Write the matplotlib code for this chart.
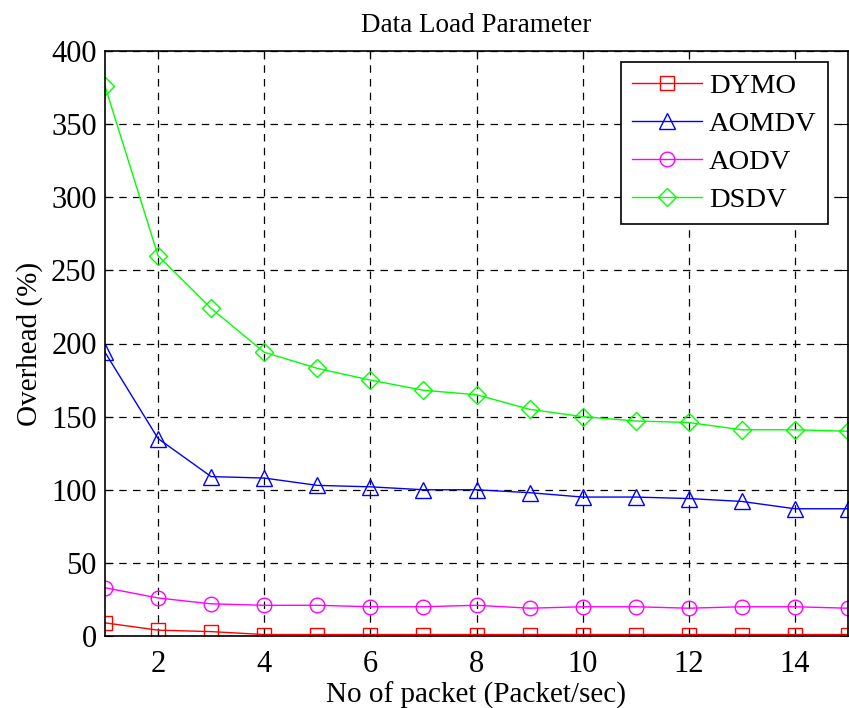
import matplotlib
matplotlib.use("Agg")
import matplotlib.pyplot as plt

x = list(range(1, 16))
dymo = [9, 4, 3, 1, 1, 1, 1, 1, 1, 1, 1, 1, 1, 1, 1]
aomdv = [194, 135, 109, 108, 103, 102, 100, 100, 98, 95, 95, 94, 92, 87, 87]
aodv = [33, 26, 22, 21, 21, 20, 20, 21, 19, 20, 20, 19, 20, 20, 19]
dsdv = [376, 260, 224, 194, 183, 175, 168, 165, 155, 150, 147, 146, 141, 141, 140]
xticks = [2, 4, 6, 8, 10, 12, 14]
yticks = [0, 50, 100, 150, 200, 250, 300, 350, 400]

plt.rcParams['font.family'] = ['Liberation Serif', 'DejaVu Serif']
fig = plt.figure(figsize=(8.49, 7.08), dpi=100)
ax = fig.add_axes([105/849, 1-636/708, (848-105)/849, (636-51)/708])

mk = dict(markerfacecolor='none', linewidth=1, markeredgewidth=1)
ax.plot(x, dymo, color='#ff0000', marker='s', markersize=10, label='DYMO', **mk)
ax.plot(x, aomdv, color='#0000ff', marker='^', markersize=12, label='AOMDV', **mk)
ax.plot(x, aodv, color='#ff00ff', marker='o', markersize=10.5, label='AODV', **mk)
ax.plot(x, dsdv, color='#00ff00', marker='D', markersize=9.5, label='DSDV', **mk)

ax.set_xlim(1, 15)
ax.set_ylim(0, 400)
ax.set_xticks(xticks)
ax.set_yticks(yticks)
ax.tick_params(direction='in', top=True, right=True, labelsize=22, length=6, pad=6)
ax.tick_params(axis='x', pad=10)
ax.grid(True, color='black', linestyle=(0, (6, 5)), linewidth=0.9)
for s in ax.spines.values():
    s.set_linewidth(1.2)
ax.set_title('Data Load Parameter', fontsize=19.5, pad=14)
ax.set_xlabel('No of packet (Packet/sec)', fontsize=21, labelpad=2)
ax.set_ylabel('Overhead (%)', fontsize=21, labelpad=6)
leg = ax.legend(loc='upper right', bbox_to_anchor=(0.973, 0.981), borderaxespad=0,
                fontsize=20.5, fancybox=False, framealpha=1,
                edgecolor='black', handlelength=2.45, handletextpad=0.25,
                labelspacing=0.42, borderpad=0.4)
leg.get_frame().set_linewidth(1.2)
fig.savefig('out.png', dpi=100)
